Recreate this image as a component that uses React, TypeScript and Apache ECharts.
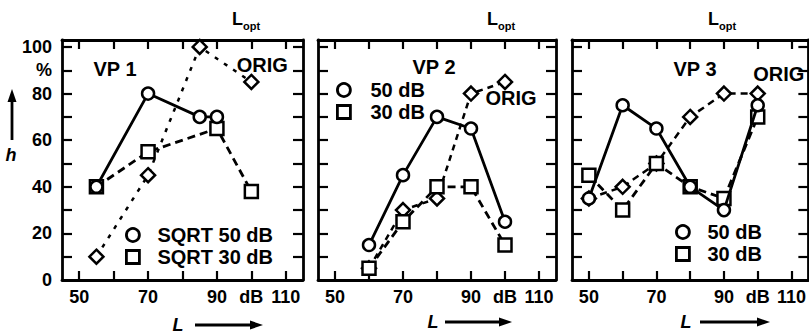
import React, { useEffect, useRef } from 'react';
import * as echarts from 'echarts';

// ---- data ----
const panelNames = ['VP 1', 'VP 2', 'VP 3'];
const xTicks = [50, 60, 70, 80, 90, 100, 110];
const xLabels = [50, 70, 90, 100, 110];
const yTicks = [10, 20, 30, 40, 50, 60, 70, 80, 90, 100];
const yLabels = [0, 20, 40, 60, 80, 90, 100];
const names50 = ['SQRT 50 dB', '50 dB', '50 dB'];
const names30 = ['SQRT 30 dB', '30 dB', '30 dB'];
const nameOrig = 'ORIG';

const vp1_50 = [[55, 40], [70, 80], [85, 70], [90, 70]];
const vp1_30 = [[55, 40], [70, 55], [90, 65], [100, 38]];
const vp1_orig = [[55, 10], [70, 45], [85, 100], [100, 85]];

const vp2_50 = [[60, 15], [70, 45], [80, 70], [90, 65], [100, 25]];
const vp2_30 = [[60, 5], [70, 25], [80, 40], [90, 40], [100, 15]];
const vp2_orig = [[60, 5], [70, 30], [80, 35], [90, 80], [100, 85]];

const vp3_50 = [[50, 35], [60, 75], [70, 65], [80, 40], [90, 30], [100, 75]];
const vp3_30 = [[50, 45], [60, 30], [70, 50], [80, 40], [90, 35], [100, 70]];
const vp3_orig = [[50, 35], [60, 40], [70, 50], [80, 70], [90, 80], [100, 80]];

const data50 = [vp1_50, vp2_50, vp3_50];
const data30 = [vp1_30, vp2_30, vp3_30];
const dataOrig = [vp1_orig, vp2_orig, vp3_orig];

// ---- layout / style ----
const FONT = 'Liberation Sans, Arial, sans-serif';
const W = 'bold';
const grids = [
  { left: 62, width: 241 },
  { left: 318, width: 238 },
  { left: 572, width: 238 },
];
const GRID_TOP = 40;
const GRID_H = 240;
const origDash = [[4, 7], [6, 5], [7, 5]];
const origLabelOffset = [[11, -17], [6, 16], [21, -20]];
const legendPos = [
  { left: 125, top: 225, pad: 13 },
  { left: 336, top: 80, pad: 15 },
  { left: 675, top: 222, pad: 13 },
];
const vpPos = [[115, 69], [434, 67], [695, 69]];
const loptPos = [[232, 10], [487, 10], [708, 10]];
const lArrow = [
  { lx: 178, y: 325, x1: 195, x2: 252 },
  { lx: 433, y: 322, x1: 445, x2: 501 },
  { lx: 686, y: 322, x1: 700, x2: 759 },
];

const lineColor = '#000';

function buildOption() {
  const xAxis: any[] = [];
  const yAxis: any[] = [];
  const series: any[] = [];
  const legend: any[] = [];
  const graphic: any[] = [];

  const symStyle = { color: '#fff', borderColor: '#000', borderWidth: 2.5 };

  for (let i = 0; i < 3; i++) {
    const axisLine = { show: true, onZero: false, lineStyle: { color: lineColor, width: 2.8 } };
    const tickStyle = { color: lineColor, width: 2.2 };
    xAxis.push({
      type: 'value', gridIndex: i, position: 'bottom', min: 45, max: 115,
      axisLine,
      axisTick: { show: true, inside: true, length: 9, customValues: xTicks, lineStyle: tickStyle },
      axisLabel: {
        show: true, customValues: xLabels, color: '#000', fontSize: 18, fontWeight: W, fontFamily: FONT, margin: 8,
        formatter: (v: number) => (v === 100 ? 'dB' : String(v)),
      },
      splitLine: { show: false },
    });
    xAxis.push({
      type: 'value', gridIndex: i, position: 'top', min: 45, max: 115,
      axisLine,
      axisTick: { show: true, inside: true, length: 9, customValues: xTicks, lineStyle: tickStyle },
      axisLabel: { show: false },
      splitLine: { show: false },
    });
    yAxis.push({
      type: 'value', gridIndex: i, position: 'left', min: 0, max: 103,
      axisLine,
      axisTick: { show: true, inside: true, length: 10, customValues: yTicks, lineStyle: tickStyle },
      axisLabel: {
        show: i === 0, customValues: yLabels, color: '#000', fontSize: 18, fontWeight: W, fontFamily: FONT, margin: 10,
        formatter: (v: number) => (v === 90 ? '%' : String(v)),
      },
      splitLine: { show: false },
    });
    yAxis.push({
      type: 'value', gridIndex: i, position: 'right', min: 0, max: 103,
      axisLine,
      axisTick: { show: true, inside: true, length: 10, customValues: yTicks, lineStyle: tickStyle },
      axisLabel: { show: false },
      splitLine: { show: false },
    });

    const origData = dataOrig[i].map((p, k, arr) =>
      k === arr.length - 1
        ? {
            value: p,
            label: {
              show: true, formatter: nameOrig, position: 'inside', offset: origLabelOffset[i],
              color: '#000', fontSize: 20, fontWeight: W, fontFamily: FONT,
            },
          }
        : { value: p }
    );

    series.push({
      type: 'line', name: nameOrig, xAxisIndex: 2 * i, yAxisIndex: 2 * i,
      data: origData, symbol: 'diamond', symbolSize: 14, showAllSymbol: true,
      lineStyle: { color: lineColor, width: 2.5, type: origDash[i] },
      itemStyle: symStyle, silent: true, z: 2,
    });
    series.push({
      type: 'line', name: names30[i], xAxisIndex: 2 * i, yAxisIndex: 2 * i,
      data: data30[i], symbol: 'rect', symbolSize: 13, showAllSymbol: true,
      lineStyle: { color: lineColor, width: 2.8, type: [8, 5] },
      itemStyle: symStyle, silent: true, z: 3,
    });
    series.push({
      type: 'line', name: names50[i], xAxisIndex: 2 * i, yAxisIndex: 2 * i,
      data: data50[i], symbol: 'circle', symbolSize: 12, showAllSymbol: true,
      lineStyle: { color: lineColor, width: 2.8, type: 'solid' },
      itemStyle: symStyle, silent: true, z: 4,
    });

    const lp = legendPos[i];
    legend.push({
      show: true, orient: 'vertical', left: lp.left, top: lp.top, padding: 0, itemGap: 2,
      itemWidth: 13, itemHeight: 13, selectedMode: false,
      textStyle: { color: '#000', fontSize: 20, fontWeight: W, fontFamily: FONT, lineHeight: 20, padding: [0, 0, 0, lp.pad] },
      data: [
        { name: names50[i], icon: 'circle', itemStyle: { color: '#fff', borderColor: '#000', borderWidth: 2.8 } },
        { name: names30[i], icon: 'rect', itemStyle: { color: '#fff', borderColor: '#000', borderWidth: 2.8 } },
      ],
    });

    graphic.push({
      type: 'text', x: vpPos[i][0], y: vpPos[i][1],
      style: { text: panelNames[i], fill: '#000', font: `${W} 20px ${FONT}`, textAlign: 'center', textVerticalAlign: 'middle' },
    });
    graphic.push({
      type: 'text', x: loptPos[i][0], y: loptPos[i][1],
      style: {
        text: '{a|L}{b|opt}',
        rich: {
          a: { fontSize: 18, fontWeight: W, fontFamily: FONT, fill: '#000', lineHeight: 18, verticalAlign: 'bottom' },
          b: { fontSize: 11, fontWeight: W, fontFamily: FONT, fill: '#000', lineHeight: 11, verticalAlign: 'bottom', padding: [0, 0, -3, 0] },
        },
        fill: '#000',
      },
    });
    const la = lArrow[i];
    graphic.push({
      type: 'text', x: la.lx, y: la.y,
      style: { text: 'L', fill: '#000', font: `italic ${W} 18px ${FONT}`, textAlign: 'center', textVerticalAlign: 'middle' },
    });
    graphic.push({
      type: 'line', shape: { x1: la.x1, y1: la.y, x2: la.x2, y2: la.y },
      style: { stroke: '#000', lineWidth: 2.8 },
    });
    graphic.push({
      type: 'polygon', shape: { points: [[la.x2 - 2, la.y - 4.5], [la.x2 - 2, la.y + 4.5], [la.x2 + 11, la.y]] },
      style: { fill: '#000' },
    });
  }

  // y-axis "h" with up arrow
  graphic.push({
    type: 'line', shape: { x1: 12, y1: 140, x2: 12, y2: 100 },
    style: { stroke: '#000', lineWidth: 2.8 },
  });
  graphic.push({
    type: 'polygon', shape: { points: [[7.5, 102], [16.5, 102], [12, 89]] },
    style: { fill: '#000' },
  });
  graphic.push({
    type: 'text', x: 11, y: 155,
    style: { text: 'h', fill: '#000', font: `italic ${W} 18px ${FONT}`, textAlign: 'center', textVerticalAlign: 'middle' },
  });

  return {
    animation: false,
    backgroundColor: '#fff',
    grid: grids.map((g) => ({ left: g.left, width: g.width, top: GRID_TOP, height: GRID_H, containLabel: false })),
    xAxis,
    yAxis,
    legend,
    series,
    graphic,
  };
}

export default function App() {
  const ref = useRef<HTMLDivElement>(null);
  useEffect(() => {
    if (!ref.current) return;
    const chart = echarts.init(ref.current, undefined, { renderer: 'svg' });
    chart.setOption(buildOption() as any);
    return () => chart.dispose();
  }, []);
  return (
    <div
      ref={ref}
      style={{ position: 'fixed', left: 0, top: 0, width: 809, height: 335, background: '#fff' }}
    />
  );
}
